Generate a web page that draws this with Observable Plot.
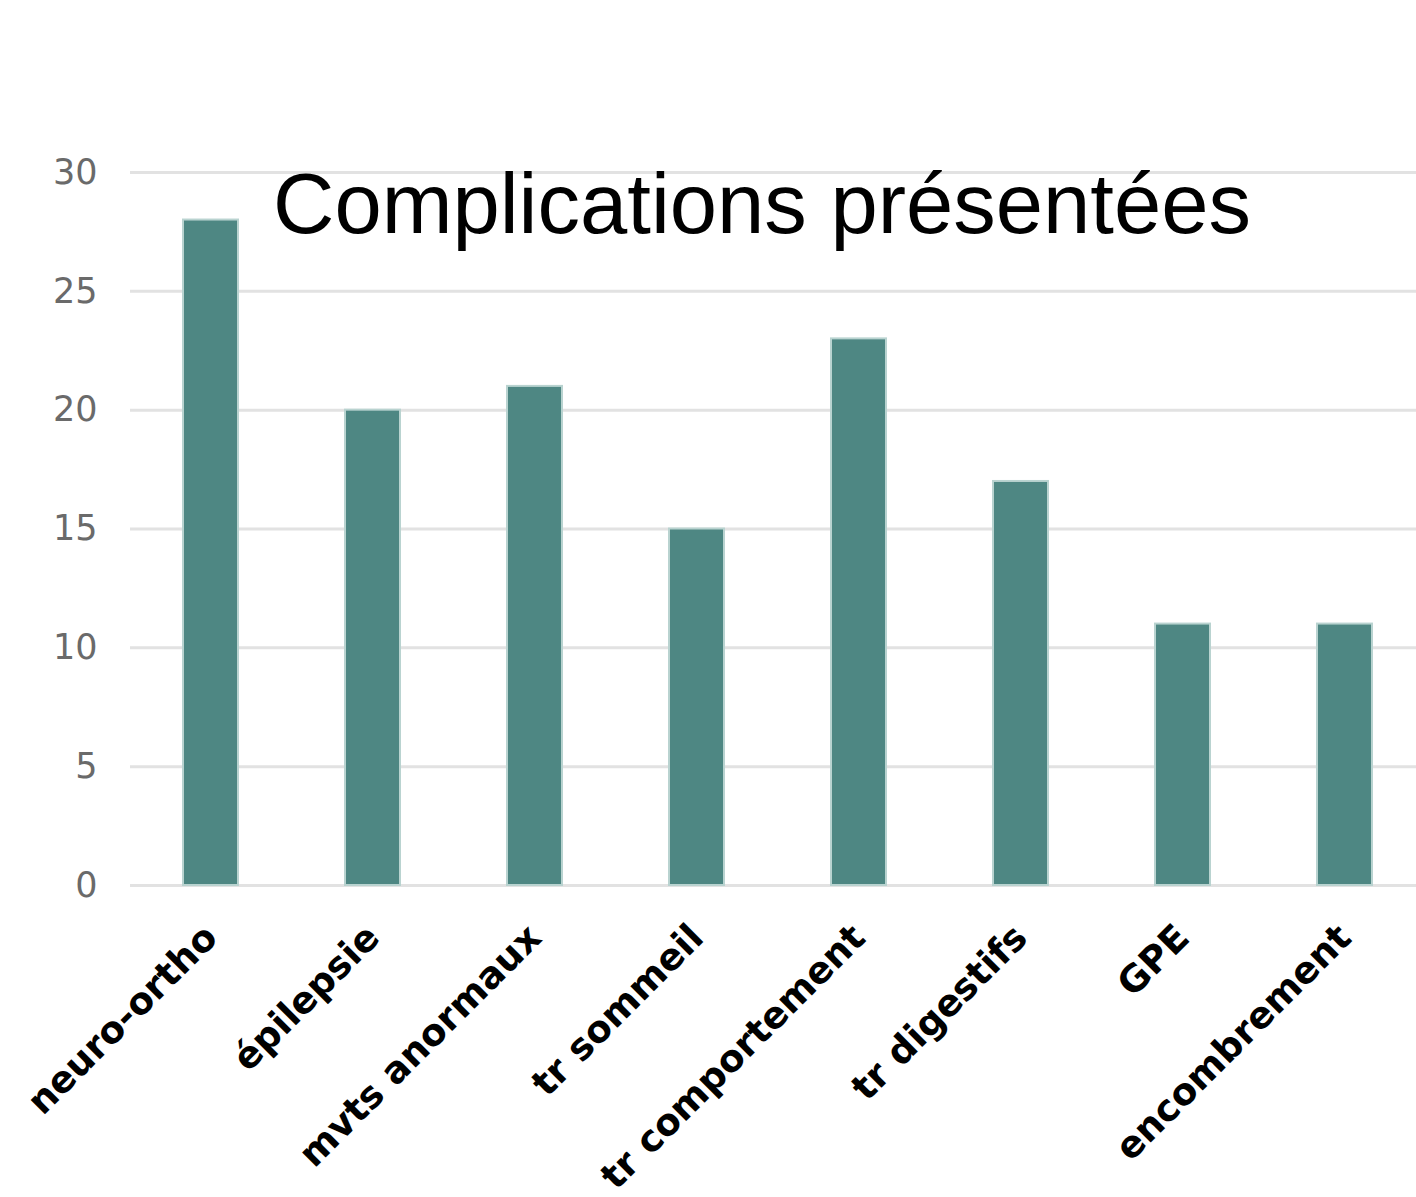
<!DOCTYPE html>
<html>
<head>
<meta charset="utf-8">
<script src="https://cdn.jsdelivr.net/npm/d3@7"></script>
<script src="https://cdn.jsdelivr.net/npm/@observablehq/plot@0.6"></script>
<style>
  html, body { margin: 0; padding: 0; background: #fff; }
  #wrap { position: relative; width: 1416px; height: 1197px; overflow: hidden; }
  #title { position: absolute; left: 273px; top: 161px; font-family: "Liberation Sans", Arial, sans-serif; font-size: 85px; line-height: 1; color: #000; white-space: nowrap; }
</style>
</head>
<body>
<div id="wrap"><div id="title">Complications présentées</div></div>
<script>
const categories = ["neuro-ortho", "épilepsie", "mvts anormaux", "tr sommeil", "tr comportement", "tr digestifs", "GPE", "encombrement"];
const counts = [28, 20, 21, 15, 23, 17, 11, 11];
const yTicks = [0, 5, 10, 15, 20, 25, 30];

const data = categories.map((c, i) => ({category: c, count: counts[i]}));

const chart = Plot.plot({
  width: 1416,
  height: 1197,
  marginTop: 172,
  marginBottom: 312,
  marginLeft: 130,
  marginRight: 0,
  style: {background: "transparent", overflow: "visible"},
  x: {domain: categories, range: [130, 1426], paddingInner: 0.66, paddingOuter: 0.33, label: null},
  y: {domain: [0, 30], label: null},
  marks: [
    Plot.gridY(yTicks, {stroke: "#e2e2e2", strokeWidth: 3, strokeOpacity: 1}),
    Plot.barY(data, {x: "category", y: "count", fill: "#4e8783", stroke: "#b9d3d0", strokeWidth: 2}),
    Plot.axisY(yTicks, {tickSize: 0, tickPadding: 33, fontSize: 35, fontFamily: "DejaVu Sans", color: "#6a6a6a", label: null}),
    Plot.axisX({tickSize: 0, tickPadding: 46, tickRotate: -45, fontSize: 37, fontWeight: "bold", fontFamily: "DejaVu Sans", color: "#000", label: null})
  ]
});
chart.style.position = "absolute";
chart.style.left = "0";
chart.style.top = "0";
const wrap = document.getElementById("wrap");
wrap.insertBefore(chart, wrap.firstChild);
</script>
</body>
</html>
